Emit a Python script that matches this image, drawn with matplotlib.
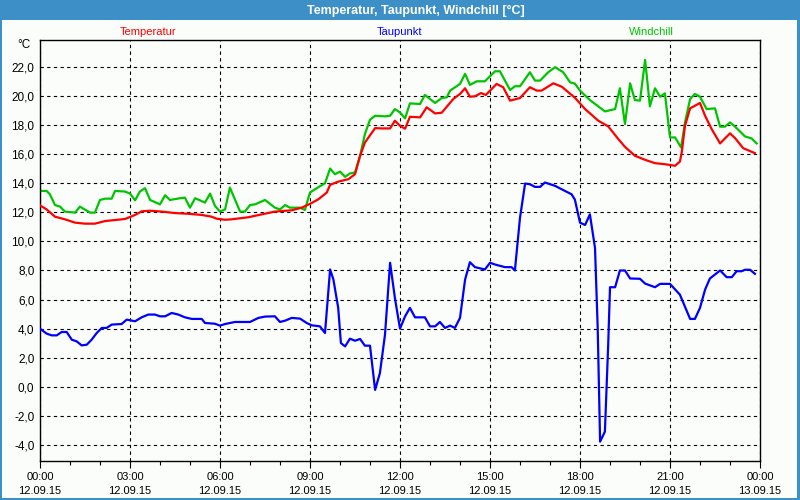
import matplotlib
matplotlib.use("Agg")
import matplotlib.pyplot as plt
from matplotlib.patches import Rectangle
from matplotlib.ticker import MultipleLocator, FixedLocator

TITLE = "Temperatur, Taupunkt, Windchill [°C]"
SERIES_NAMES = ["Temperatur", "Taupunkt", "Windchill"]
TICK_HOURS = [0, 3, 6, 9, 12, 15, 18, 21, 24]
TICK_LABELS = ["00:00\n12.09.15", "03:00\n12.09.15", "06:00\n12.09.15",
               "09:00\n12.09.15", "12:00\n12.09.15", "15:00\n12.09.15",
               "18:00\n12.09.15", "21:00\n12.09.15", "00:00\n13.09.15"]
Y_TICKS = [-4, -2, 0, 2, 4, 6, 8, 10, 12, 14, 16, 18, 20, 22]

# temperature (hours, degC)
temp_t = [0, 0.22, 0.5, 0.83, 1.17, 1.5, 1.83, 2.17, 2.5, 2.83, 3.17, 3.39, 3.67,
          4.06, 4.5, 4.94, 5.39, 5.72, 5.89, 6.17, 6.39, 6.94, 7.39, 7.83, 8.39,
          8.72, 9.02, 9.28, 9.56, 9.67, 9.94, 10.28, 10.5, 10.67, 10.83, 11.17,
          11.39, 11.67, 11.83, 12.0, 12.17, 12.33, 12.67, 12.89, 13.17, 13.39,
          13.78, 14.0, 14.17, 14.33, 14.5, 14.7, 14.86, 15.22, 15.44, 15.67,
          16.0, 16.33, 16.56, 16.72, 17.11, 17.39, 17.83, 18.17, 18.61, 18.94,
          19.28, 19.5, 19.83, 20.17, 20.5, 20.83, 21.17, 21.33, 21.39, 21.5,
          21.67, 22.0, 22.17, 22.39, 22.67, 23.0, 23.17, 23.44, 23.83]
temp_v = [12.48, 12.2, 11.7, 11.52, 11.29, 11.22, 11.22, 11.4, 11.47, 11.54, 11.82,
          12.07, 12.11, 12.05, 11.95, 11.9, 11.82, 11.7, 11.56, 11.49, 11.52, 11.66,
          11.86, 12.05, 12.14, 12.32, 12.6, 12.9, 13.36, 13.89, 14.11, 14.28, 14.62,
          15.89, 16.8, 17.79, 17.77, 17.77, 18.3, 17.95, 17.75, 18.57, 18.53, 19.22,
          18.8, 18.85, 19.8, 20.14, 20.53, 19.95, 19.98, 20.2, 20.07, 20.83, 20.6,
          19.68, 19.86, 20.6, 20.37, 20.37, 20.87, 20.64, 19.88, 19.1, 18.3, 17.91,
          17.03, 16.5, 15.89, 15.61, 15.38, 15.31, 15.2, 15.49, 16.11, 17.95, 19.15,
          19.52, 18.64, 17.72, 16.74, 17.43, 17.1, 16.41, 16.07]

# dew point
dew_t = [0, 0.22, 0.39, 0.56, 0.72, 0.89, 1.06, 1.22, 1.39, 1.56, 1.72, 1.89,
         2.06, 2.22, 2.39, 2.72, 2.89, 3.17, 3.39, 3.61, 3.83, 4.0, 4.17, 4.39,
         4.61, 4.83, 5.06, 5.39, 5.5, 5.83, 6.0, 6.17, 6.5, 7.0, 7.28, 7.5, 7.83,
         8.0, 8.17, 8.39, 8.67, 8.89, 9.06, 9.33, 9.5, 9.67, 9.78, 9.94, 10.03,
         10.17, 10.33, 10.5, 10.67, 10.83, 11.0, 11.17, 11.33, 11.5, 11.67, 11.83,
         12.0, 12.17, 12.33, 12.5, 12.83, 13.0, 13.17, 13.33, 13.5, 13.67, 13.83,
         14.0, 14.17, 14.33, 14.5, 14.83, 15.0, 15.17, 15.5, 15.72, 15.83, 16.0,
         16.17, 16.33, 16.5, 16.67, 16.83, 17.17, 17.5, 17.72, 17.83, 18.0, 18.17,
         18.33, 18.5, 18.59, 18.67, 18.83, 18.94, 19.0, 19.17, 19.33, 19.5, 19.67,
         20.0, 20.17, 20.5, 20.67, 21.0, 21.33, 21.67, 21.83, 22.0, 22.17, 22.33,
         22.67, 22.89, 23.06, 23.22, 23.39, 23.5, 23.67, 23.83]
dew_v = [4.0, 3.66, 3.54, 3.54, 3.77, 3.77, 3.24, 3.13, 2.85, 2.9, 3.24, 3.7,
         4.05, 4.05, 4.28, 4.32, 4.62, 4.51, 4.78, 4.97, 4.97, 4.85, 4.85, 5.08,
         4.97, 4.78, 4.67, 4.67, 4.39, 4.34, 4.21, 4.32, 4.46, 4.46, 4.74, 4.83,
         4.85, 4.46, 4.55, 4.74, 4.69, 4.39, 4.23, 4.16, 3.7, 8.07, 7.38, 5.43,
         3.01, 2.78, 3.31, 3.17, 3.29, 2.83, 2.83, -0.21, 0.94, 3.59, 8.53, 6.11,
         4.0, 4.85, 5.43, 4.78, 4.78, 4.16, 4.16, 4.46, 4.05, 4.21, 4.05, 4.74,
         7.38, 8.57, 8.23, 8.07, 8.53, 8.41, 8.23, 8.23, 8.0, 11.63, 13.98, 13.93,
         13.75, 13.75, 14.05, 13.82, 13.47, 13.24, 12.87, 11.29, 11.13, 11.86,
         9.56, 4.05, -3.77, -3.08, 2.9, 6.85, 6.85, 8.0, 8.0, 7.45, 7.43, 7.1,
         6.85, 7.08, 7.08, 6.34, 4.67, 4.67, 5.43, 6.69, 7.45, 8.0, 7.54, 7.54,
         7.95, 7.95, 8.05, 8.05, 7.77]

# wind chill
wc_t = [0, 0.22, 0.33, 0.5, 0.67, 0.83, 1.17, 1.33, 1.67, 1.83, 2.0, 2.17, 2.39,
        2.5, 2.83, 3.0, 3.17, 3.33, 3.5, 3.67, 4.0, 4.17, 4.33, 4.67, 4.83, 5.0,
        5.17, 5.5, 5.67, 5.83, 6.0, 6.17, 6.33, 6.67, 6.83, 7.0, 7.17, 7.5, 7.83,
        8.0, 8.17, 8.33, 8.67, 8.83, 9.0, 9.17, 9.5, 9.67, 9.83, 10.0, 10.17,
        10.33, 10.5, 10.67, 10.83, 11.0, 11.17, 11.5, 11.67, 11.83, 12.0, 12.17,
        12.33, 12.67, 12.83, 13.17, 13.39, 13.56, 13.67, 14.0, 14.17, 14.33,
        14.56, 14.83, 15.17, 15.33, 15.67, 15.83, 16.0, 16.33, 16.5, 16.67,
        16.94, 17.17, 17.44, 17.67, 17.83, 18.0, 18.33, 18.83, 19.17, 19.33,
        19.5, 19.67, 19.83, 20.0, 20.17, 20.33, 20.5, 20.67, 20.83, 21.0, 21.17,
        21.37, 21.5, 21.67, 21.83, 22.0, 22.22, 22.5, 22.67, 22.83, 23.0, 23.17,
        23.5, 23.72, 23.89]
wc_v = [13.47, 13.47, 13.24, 12.5, 12.39, 12.05, 11.98, 12.39, 11.98, 11.98,
        12.85, 12.94, 12.94, 13.47, 13.43, 13.29, 12.83, 13.43, 13.66, 12.85,
        12.55, 13.17, 12.85, 12.97, 13.01, 12.32, 12.97, 12.67, 13.29, 12.45,
        12.05, 12.2, 13.7, 12.05, 12.05, 12.5, 12.55, 12.85, 12.32, 12.2, 12.5,
        12.32, 12.32, 12.16, 13.36, 13.59, 14.0, 15.01, 14.62, 14.8, 14.44,
        14.67, 14.74, 15.89, 17.38, 18.37, 18.64, 18.6, 18.64, 19.1, 18.87,
        18.46, 19.49, 19.45, 20.07, 19.52, 19.86, 19.91, 20.37, 20.83, 21.52,
        20.76, 21.01, 21.01, 21.7, 21.7, 20.41, 20.67, 20.67, 21.63, 21.06,
        21.06, 21.63, 21.98, 21.63, 20.94, 20.85, 20.37, 19.72, 18.94, 19.1,
        20.53, 18.07, 20.87, 19.72, 19.68, 22.48, 19.29, 20.53, 19.95, 20.18,
        17.15, 17.15, 16.46, 18.18, 19.79, 20.14, 19.95, 19.1, 19.15, 17.89,
        17.89, 18.18, 17.89, 17.22, 17.08, 16.74]

COLORS = ["#ff0000", "#0000ff", "#00c400"]
BAR_BLUE = "#3d8fc8"

plt.rcParams["font.family"] = ["Liberation Sans", "DejaVu Sans"]

fig = plt.figure(figsize=(8, 5), dpi=100)
fig.patch.set_facecolor("#fbfdfb")

# title bar and frame
fig.patches.append(Rectangle((0, 0.96), 1, 0.04, transform=fig.transFigure,
                             facecolor=BAR_BLUE, edgecolor="none", zorder=0))
for rect in [(0, 0, 0.003, 1), (0.996, 0, 0.004, 1), (0, 0, 1, 0.005)]:
    fig.patches.append(Rectangle(rect[:2], rect[2], rect[3], transform=fig.transFigure,
                                 facecolor=BAR_BLUE, edgecolor="none", zorder=0))
fig.text(0.52, 0.979, TITLE, color="white", fontsize=9, fontweight="bold",
         ha="center", va="center")

ax = fig.add_axes([0.05, 0.078, 0.90, 0.842])
ax.set_facecolor("#fbfdfb")
ax.plot(temp_t, temp_v, color=COLORS[0], lw=1.6, zorder=3)
ax.plot(dew_t, dew_v, color=COLORS[1], lw=1.6, zorder=3)
ax.plot(wc_t, wc_v, color=COLORS[2], lw=1.6, zorder=2)

ax.set_xlim(0, 24)
ax.set_ylim(-5.1, 23.85)
ax.xaxis.set_major_locator(FixedLocator(TICK_HOURS))
ax.set_xticklabels(TICK_LABELS, linespacing=1.5)
ax.xaxis.set_minor_locator(MultipleLocator(1))
ax.set_yticks(Y_TICKS)
ax.set_yticklabels([f"{v:.1f}".replace(".", ",") for v in Y_TICKS])
ax.grid(True, which="major", color="black", linestyle=(0, (3, 3)), lw=0.8)
ax.tick_params(axis="x", which="major", length=5, width=0.8, labelsize=8, pad=3)
ax.tick_params(axis="x", which="minor", length=3, width=0.8)
ax.tick_params(axis="y", length=0, labelsize=8.5, pad=4)
for s in ax.spines.values():
    s.set_linewidth(1.0)
    s.set_color("black")

fig.text(0.03, 0.909, "°C", fontsize=8.5, ha="center", va="center")
for name, col, xpos in zip(SERIES_NAMES, COLORS, [0.185, 0.499, 0.814]):
    fig.text(xpos, 0.936, name, color=col, fontsize=8, ha="center", va="center")

fig.savefig("out.png", dpi=100, facecolor=fig.get_facecolor())
